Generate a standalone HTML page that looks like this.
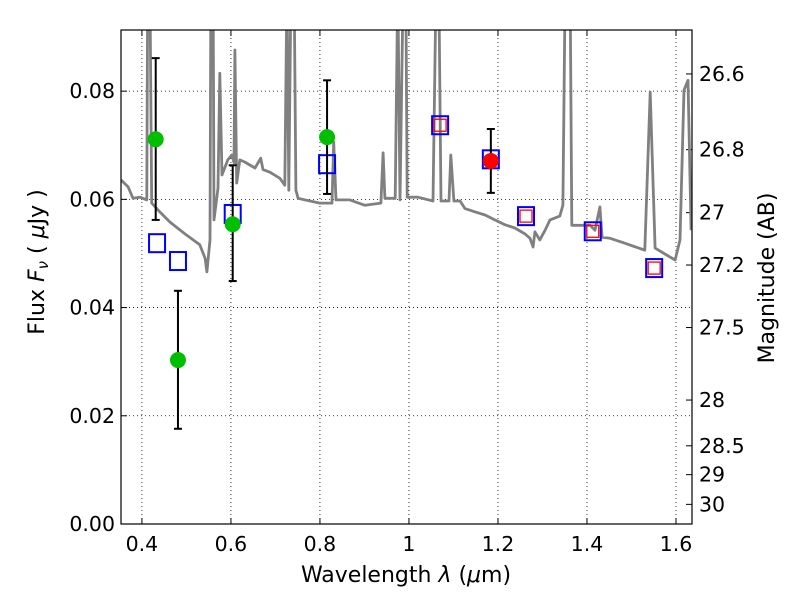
<!DOCTYPE html>
<html><head><meta charset="utf-8"><style>
html,body{margin:0;padding:0;background:#fff;}
svg{display:block;font-family:"DejaVu Sans","Liberation Sans",sans-serif;}
</style></head><body>
<svg id="chart" width="800" height="600"></svg>
<script>
const specLam=[0.353,0.369,0.380,0.396,0.411,0.413,0.418,0.422,0.440,0.463,0.497,0.530,0.542,0.546,0.553,0.555,0.560,0.562,0.571,0.575,0.580,0.593,0.602,0.607,0.609,0.613,0.620,0.631,0.654,0.667,0.672,0.688,0.710,0.721,0.726,0.730,0.735,0.742,0.746,0.751,0.766,0.800,0.827,0.831,0.836,0.867,0.901,0.937,0.942,0.946,0.969,0.975,0.980,0.987,0.993,0.996,1.020,1.054,1.061,1.067,1.072,1.090,1.094,1.101,1.115,1.126,1.148,1.171,1.193,1.216,1.238,1.261,1.272,1.279,1.283,1.294,1.306,1.317,1.339,1.346,1.351,1.362,1.366,1.407,1.418,1.429,1.434,1.452,1.485,1.530,1.542,1.553,1.575,1.598,1.609,1.618,1.627,1.634];
const specFlux=[0.0636,0.0623,0.0602,0.0604,0.0599,0.1,0.1,0.0593,0.0577,0.0558,0.0536,0.0516,0.0491,0.0466,0.0525,0.1,0.1,0.0562,0.0621,0.0833,0.0645,0.0673,0.0682,0.0668,0.0876,0.0630,0.0673,0.0669,0.0658,0.0676,0.0655,0.0650,0.0639,0.0626,0.1,0.0617,0.1,0.1,0.0617,0.0602,0.0599,0.0593,0.0593,0.0706,0.0599,0.0599,0.0589,0.0593,0.0686,0.0602,0.0602,0.1,0.0599,0.1,0.1,0.0604,0.0604,0.0597,0.1,0.1,0.0597,0.0597,0.0682,0.0597,0.0597,0.0583,0.0577,0.0571,0.0562,0.0553,0.0547,0.0536,0.0528,0.0512,0.0540,0.0525,0.0543,0.0562,0.0569,0.0589,0.1,0.1,0.0552,0.0552,0.0543,0.0586,0.0530,0.0528,0.0519,0.0506,0.0798,0.0510,0.0499,0.0488,0.0525,0.0802,0.0820,0.0543];
const obsLam=[0.431,0.481,0.604,0.816];
const obsFlux=[0.0711,0.0303,0.0554,0.0715];
const obsHi=[0.0861,0.0431,0.0663,0.0820];
const obsLo=[0.0562,0.0176,0.0449,0.0610];
const redLam=[1.184];const redFlux=[0.0671];const redHi=[0.0730];const redLo=[0.0612];
const modelLam=[0.434,0.481,0.604,0.816,1.070,1.184,1.263,1.413,1.551];
const modelFlux=[0.0519,0.0486,0.0573,0.0665,0.0737,0.0674,0.0569,0.0541,0.0473];
const innerLam=[1.070,1.263,1.413,1.551];
const innerFlux=[0.0737,0.0569,0.0541,0.0473];
const xTicks=[0.4,0.6,0.8,1.0,1.2,1.4,1.6];
const xTickLabels=["0.4","0.6","0.8","1","1.2","1.4","1.6"];
const yTicks=[0,0.02,0.04,0.06,0.08];
const yTickLabels=["0.00","0.02","0.04","0.06","0.08"];
const magTicks=[26.6,26.8,27,27.2,27.5,28,28.5,29,30];
const magLabels=["26.6","26.8","27","27.2","27.5","28","28.5","29","30"];

const L=121,R=692,T=30,B=524,X0=0.353,X1=1.636,Y0=0,Y1=0.0913;
const sx=v=>L+(v-X0)/(X1-X0)*(R-L);
const sy=v=>B-(v-Y0)/(Y1-Y0)*(B-T);
const magToFlux=m=>Math.pow(10,(23.9-m)/2.5);
const NS="http://www.w3.org/2000/svg";
const svg=document.getElementById('chart');
function mk(tag,attrs,parent){const e=document.createElementNS(NS,tag);for(const k in attrs)e.setAttribute(k,attrs[k]);(parent||svg).appendChild(e);return e;}
const defs=mk('defs',{});const cp=mk('clipPath',{id:'clip'},defs);mk('rect',{x:L,y:T,width:R-L,height:B-T},cp);
const FS=20.5;
xTicks.forEach((v,i)=>{
 const g=mk('line',{x1:sx(v),x2:sx(v),y1:T,y2:B,stroke:'#000','stroke-width':0.8,'stroke-dasharray':'1,3'});
 
 const t1=mk('line',{x1:sx(v),x2:sx(v),y1:B,y2:B-6,stroke:'#000'});
 const t2=mk('line',{x1:sx(v),x2:sx(v),y1:T,y2:T+6,stroke:'#000'});
 const tx=mk('text',{x:sx(v),y:B+27,'font-size':FS,'text-anchor':'middle'});tx.textContent=xTickLabels[i];
 
});
yTicks.forEach((v,i)=>{
 if(v>0){const g=mk('line',{x1:L,x2:R,y1:sy(v),y2:sy(v),stroke:'#000','stroke-width':0.8,'stroke-dasharray':'1,3'});
 }
 const t1=mk('line',{x1:L,x2:L+6,y1:sy(v),y2:sy(v),stroke:'#000'});
 const tx=mk('text',{x:L-6,y:sy(v)+7,'font-size':FS,'text-anchor':'end'});tx.textContent=yTickLabels[i];
 
});
magTicks.forEach((m,i)=>{
 const y=sy(magToFlux(m));
 const t1=mk('line',{x1:R,x2:R-6,y1:y,y2:y,stroke:'#000'});
 const tx=mk('text',{x:R+7,y:y+7,'font-size':FS});tx.textContent=magLabels[i];
 
});
const pts=specLam.map((l,i)=>sx(l).toFixed(1)+','+sy(specFlux[i]).toFixed(1)).join(' ');
const sp=mk('polyline',{points:pts,fill:'none',stroke:'#808080','stroke-width':2.8,'clip-path':'url(#clip)','stroke-linejoin':'round'});

modelLam.forEach((l,i)=>{
 const s=mk('rect',{x:sx(l)-8,y:sy(modelFlux[i])-9,width:16,height:18,fill:'none',stroke:'#0000ff','stroke-width':2});
 
});
innerLam.forEach((l,i)=>{
 const s=mk('rect',{x:sx(l)-6,y:sy(innerFlux[i])-6,width:12,height:12,fill:'none',stroke:'#ff0000','stroke-width':1.3});
 
});
function errPts(lams,fl,hi,lo,col,name){
 lams.forEach((l,i)=>{
  const x=sx(l);
  const e=mk('line',{x1:x,x2:x,y1:sy(hi[i]),y2:sy(lo[i]),stroke:'#000','stroke-width':2});
  
  [hi[i],lo[i]].forEach(v=>{const c=mk('line',{x1:x-4,x2:x+4,y1:sy(v),y2:sy(v),stroke:'#000','stroke-width':2});
   });
  const p=mk('circle',{cx:x,cy:sy(fl[i]),r:8,fill:col});
  
 });
}
errPts(obsLam,obsFlux,obsHi,obsLo,'#00bf00','observed-flux-point');
errPts(redLam,redFlux,redHi,redLo,'#ff0000','red-flux-point');
const fr=mk('rect',{x:L,y:T,width:R-L,height:B-T,fill:'none',stroke:'#000','stroke-width':1.2});

</script>
<svg style="position:absolute;left:0;top:0" width="800" height="600">
 <text x="406" y="582" font-size="22" text-anchor="middle" font-family="DejaVu Sans, sans-serif">Wavelength  <tspan font-style="italic">λ</tspan> (<tspan font-style="italic">μ</tspan>m)</text>
 <text transform="translate(44,262) rotate(-90)" font-size="22" text-anchor="middle" font-family="DejaVu Sans, sans-serif">Flux  <tspan font-style="italic">F</tspan><tspan font-style="italic" font-size="15" dy="4">ν</tspan><tspan dy="-4">  ( </tspan><tspan font-style="italic">μ</tspan>Jy )</text>
 <text transform="translate(774,278) rotate(-90)" font-size="22" text-anchor="middle" font-family="DejaVu Sans, sans-serif">Magnitude (AB)</text>
</svg>
</body></html>
